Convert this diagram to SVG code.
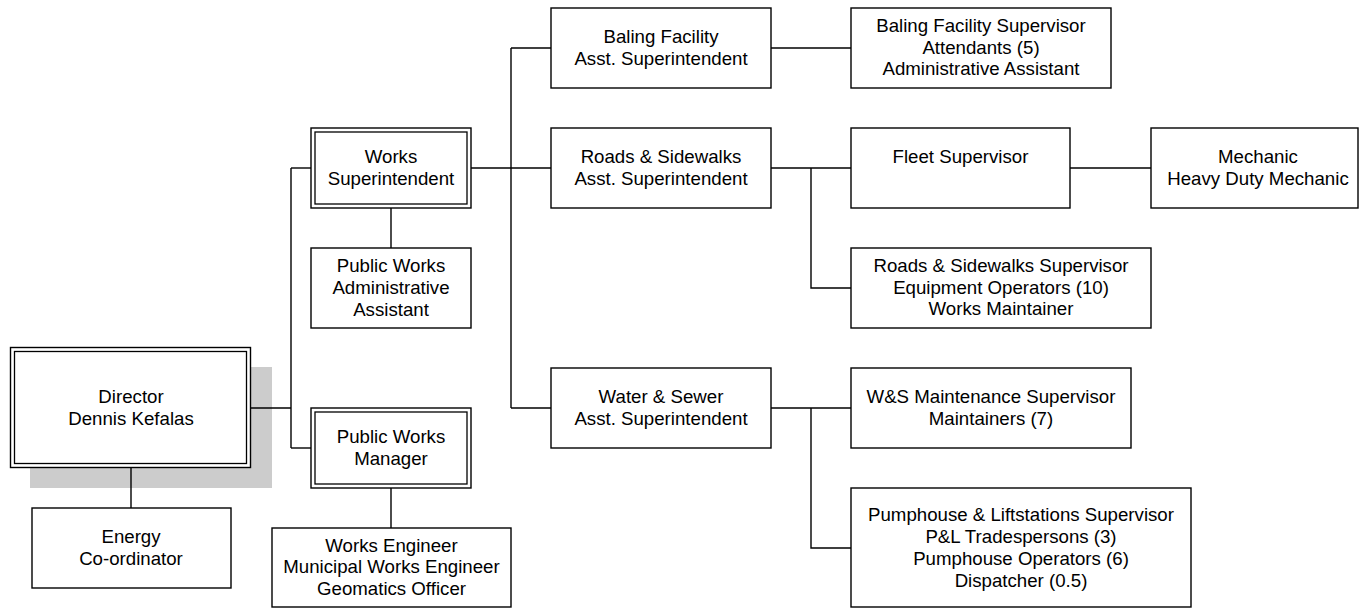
<svg xmlns="http://www.w3.org/2000/svg" width="1360" height="608" viewBox="0 0 1360 608">
<style>
.box{fill:#fff;stroke:#000;stroke-width:1.4}
.dbl{fill:none;stroke:#000;stroke-width:1.3}
.shadow{fill:#cccccc;stroke:none}
.conn path{fill:none;stroke:#000;stroke-width:1.4}
text{font-family:"Liberation Sans",Arial,sans-serif;font-size:18.67px;fill:#000;text-anchor:middle}
</style>
<rect width="1360" height="608" fill="#fff"/>
<rect class="shadow" x="30" y="367" width="242" height="121"/>
<g class="conn" id="connectors">
<path d="M251 408H291"/>
<path d="M291 168V448"/>
<path d="M291 168H311"/>
<path d="M291 448H311"/>
<path d="M131 468V508"/>
<path d="M391 208V248"/>
<path d="M391 488V528"/>
<path d="M471 168H551"/>
<path d="M511 48V408"/>
<path d="M511 48H551"/>
<path d="M511 408H551"/>
<path d="M771 48H851"/>
<path d="M771 168H851"/>
<path d="M811 168V288H851"/>
<path d="M1070 168H1151"/>
<path d="M771 408H851"/>
<path d="M811 408V548H851"/>
</g>
<g id="director">
<rect class="box" x="10.5" y="347.5" width="240" height="120"/>
<rect class="dbl" x="14.5" y="351.5" width="232" height="112"/>
<text x="131" y="402.5">Director</text>
<text x="131" y="424.5">Dennis Kefalas</text>
</g>
<g id="energy">
<rect class="box" x="32" y="508" width="199" height="80"/>
<text x="131" y="543">Energy</text>
<text x="131" y="564.5">Co-ordinator</text>
</g>
<g id="works-superintendent">
<rect class="box" x="311" y="128" width="160" height="80"/>
<rect class="dbl" x="315" y="132" width="152" height="72"/>
<text x="391" y="162.7">Works</text>
<text x="391" y="184.5">Superintendent</text>
</g>
<g id="pw-admin">
<rect class="box" x="311" y="248" width="160" height="80"/>
<text x="391" y="271.5">Public Works</text>
<text x="391" y="293.5">Administrative</text>
<text x="391" y="315.5">Assistant</text>
</g>
<g id="pw-manager">
<rect class="box" x="311" y="408" width="160" height="80"/>
<rect class="dbl" x="315" y="412" width="152" height="72"/>
<text x="391" y="442.5">Public Works</text>
<text x="391" y="464.5">Manager</text>
</g>
<g id="works-engineer">
<rect class="box" x="272" y="528" width="239" height="79"/>
<text x="391.5" y="551.5">Works Engineer</text>
<text x="391.5" y="573.3">Municipal Works Engineer</text>
<text x="391.5" y="595">Geomatics Officer</text>
</g>
<g id="baling-asst">
<rect class="box" x="551" y="8" width="220" height="80"/>
<text x="661" y="42.5">Baling Facility</text>
<text x="661" y="64.5">Asst. Superintendent</text>
</g>
<g id="roads-asst">
<rect class="box" x="551" y="128" width="220" height="80"/>
<text x="661" y="162.7">Roads &amp; Sidewalks</text>
<text x="661" y="184.5">Asst. Superintendent</text>
</g>
<g id="ws-asst">
<rect class="box" x="551" y="368" width="220" height="80"/>
<text x="661" y="402.5">Water &amp; Sewer</text>
<text x="661" y="424.5">Asst. Superintendent</text>
</g>
<g id="baling-supervisor">
<rect class="box" x="851" y="8" width="260" height="80"/>
<text x="981" y="32">Baling Facility Supervisor</text>
<text x="981" y="53.7">Attendants (5)</text>
<text x="981" y="75.4">Administrative Assistant</text>
</g>
<g id="fleet-supervisor">
<rect class="box" x="851" y="128" width="219" height="80"/>
<text x="960.5" y="162.7">Fleet Supervisor</text>
</g>
<g id="mechanic">
<rect class="box" x="1151" y="128" width="207" height="80"/>
<text x="1258" y="162.7">Mechanic</text>
<text x="1258" y="184.5">Heavy Duty Mechanic</text>
</g>
<g id="roads-supervisor">
<rect class="box" x="851" y="248" width="300" height="80"/>
<text x="1001" y="272">Roads &amp; Sidewalks Supervisor</text>
<text x="1001" y="293.7">Equipment Operators (10)</text>
<text x="1001" y="315.4">Works Maintainer</text>
</g>
<g id="ws-maintenance">
<rect class="box" x="851" y="368" width="280" height="80"/>
<text x="991" y="402.5">W&amp;S Maintenance Supervisor</text>
<text x="991" y="424.5">Maintainers (7)</text>
</g>
<g id="pumphouse">
<rect class="box" x="851" y="488" width="340" height="119"/>
<text x="1021" y="520.5">Pumphouse &amp; Liftstations Supervisor</text>
<text x="1021" y="542.5">P&amp;L Tradespersons (3)</text>
<text x="1021" y="564.5">Pumphouse Operators (6)</text>
<text x="1021" y="586.5">Dispatcher (0.5)</text>
</g>
</svg>
